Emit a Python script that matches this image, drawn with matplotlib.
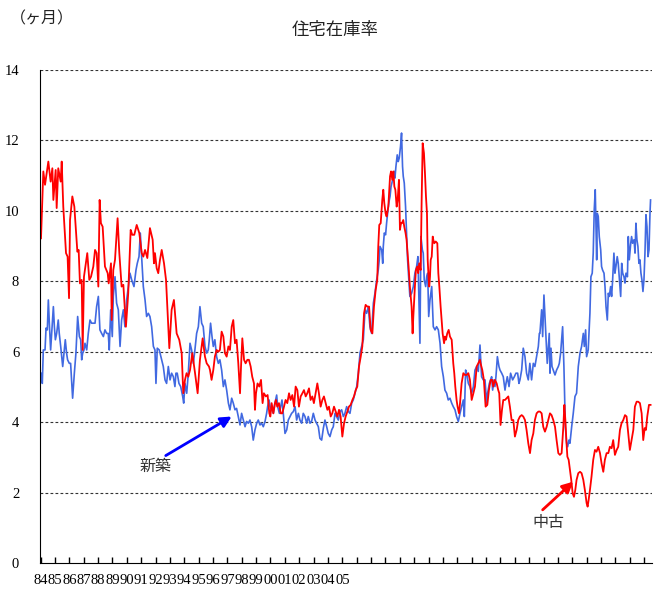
import matplotlib
matplotlib.use("Agg")
import matplotlib.pyplot as plt

# values: (year, months of supply)
new_home = [
    (1984.03, 5.39), (1984.12, 5.10), (1984.19, 6.05), (1984.31, 6.05), (1984.38, 6.67), (1984.47, 6.62),
    (1984.54, 7.47), (1984.61, 6.81), (1984.70, 6.05), (1984.77, 6.52), (1984.89, 7.28), (1984.96, 6.71),
    (1985.03, 6.34), (1985.12, 6.52), (1985.23, 6.90), (1985.30, 6.52), (1985.40, 6.15), (1985.54, 5.58),
    (1985.63, 5.96), (1985.72, 6.34), (1985.81, 5.96), (1985.88, 5.77), (1986.00, 5.67), (1986.09, 5.67),
    (1986.23, 4.68), (1986.35, 5.39), (1986.46, 5.96), (1986.58, 7.00), (1986.70, 6.43), (1986.79, 6.34),
    (1986.86, 5.77), (1986.93, 5.96), (1987.02, 6.05), (1987.09, 6.24), (1987.21, 6.05), (1987.32, 6.52),
    (1987.44, 6.90), (1987.55, 6.81), (1987.79, 6.81), (1987.90, 7.28), (1988.02, 7.57), (1988.13, 6.62),
    (1988.25, 6.52), (1988.37, 6.43), (1988.48, 6.62), (1988.60, 6.52), (1988.71, 6.52), (1988.78, 6.05),
    (1988.88, 7.19), (1988.99, 6.43), (1989.06, 7.57), (1989.18, 8.13), (1989.29, 7.38), (1989.41, 7.19),
    (1989.53, 6.15), (1989.64, 6.90), (1989.76, 7.19), (1989.87, 6.71), (1989.99, 7.47), (1990.11, 7.85),
    (1990.22, 8.23), (1990.34, 8.04), (1990.50, 7.85), (1990.64, 8.32), (1990.73, 8.51), (1990.85, 8.70),
    (1990.94, 9.37), (1991.03, 8.70), (1991.15, 7.85), (1991.27, 7.47), (1991.38, 7.00), (1991.50, 7.09),
    (1991.61, 7.00), (1991.73, 6.71), (1991.85, 6.15), (1991.96, 6.05), (1992.03, 5.10), (1992.12, 6.10),
    (1992.26, 6.05), (1992.43, 5.77), (1992.54, 5.58), (1992.66, 5.20), (1992.77, 5.10), (1992.89, 5.58),
    (1993.01, 5.20), (1993.12, 5.39), (1993.24, 5.29), (1993.35, 5.01), (1993.42, 5.39), (1993.51, 5.39),
    (1993.63, 5.10), (1993.75, 5.01), (1993.89, 4.73), (1993.96, 4.54), (1994.05, 5.10), (1994.17, 4.82),
    (1994.28, 5.39), (1994.40, 6.24), (1994.51, 6.05), (1994.63, 5.67), (1994.74, 6.05), (1994.86, 6.52),
    (1994.98, 6.71), (1995.09, 7.28), (1995.21, 6.81), (1995.32, 6.71), (1995.44, 6.15), (1995.56, 5.96),
    (1995.67, 6.05), (1995.74, 6.34), (1995.83, 6.81), (1995.93, 6.43), (1996.02, 6.15), (1996.13, 6.34),
    (1996.25, 5.86), (1996.37, 5.67), (1996.48, 5.77), (1996.60, 5.48), (1996.72, 5.01), (1996.83, 5.20),
    (1996.95, 4.91), (1997.07, 4.54), (1997.18, 4.35), (1997.30, 4.68), (1997.41, 4.54), (1997.53, 4.35),
    (1997.64, 4.39), (1997.76, 4.16), (1997.88, 3.92), (1997.99, 4.25), (1998.11, 4.06), (1998.23, 3.87),
    (1998.34, 4.02), (1998.46, 3.97), (1998.57, 4.06), (1998.69, 3.87), (1998.80, 3.49), (1998.92, 3.78),
    (1999.04, 3.97), (1999.15, 4.06), (1999.27, 3.92), (1999.38, 3.97), (1999.50, 3.87), (1999.62, 4.02),
    (1999.73, 4.25), (1999.80, 4.44), (1999.90, 4.63), (1999.97, 4.44), (2000.08, 4.35), (2000.20, 4.25),
    (2000.31, 4.54), (2000.43, 4.77), (2000.50, 4.44), (2000.62, 4.25), (2000.71, 4.44), (2000.80, 4.63),
    (2000.89, 4.25), (2001.01, 3.68), (2001.13, 3.78), (2001.24, 4.06), (2001.36, 4.16), (2001.47, 4.25),
    (2001.59, 4.30), (2001.71, 4.44), (2001.82, 4.06), (2001.94, 4.25), (2002.05, 4.06), (2002.17, 3.97),
    (2002.28, 4.25), (2002.40, 4.16), (2002.52, 3.97), (2002.63, 4.16), (2002.75, 3.97), (2002.86, 4.02),
    (2002.98, 4.25), (2003.10, 4.06), (2003.21, 3.97), (2003.33, 3.87), (2003.44, 3.54), (2003.56, 3.49),
    (2003.68, 3.83), (2003.79, 4.06), (2003.91, 3.87), (2004.02, 3.68), (2004.14, 3.59), (2004.26, 3.78),
    (2004.37, 3.87), (2004.49, 4.25), (2004.60, 4.16), (2004.72, 4.06), (2004.84, 4.30), (2004.95, 4.35),
    (2005.07, 4.16), (2005.18, 4.25), (2005.30, 4.44), (2005.42, 4.30), (2005.53, 4.25), (2005.65, 4.54),
    (2005.76, 4.63), (2005.88, 4.82), (2006.00, 5.01), (2006.11, 5.39), (2006.23, 5.96), (2006.34, 6.15),
    (2006.46, 6.34), (2006.58, 7.19), (2006.69, 7.09), (2006.81, 7.28), (2006.92, 6.71), (2007.04, 6.52),
    (2007.16, 7.38), (2007.27, 7.66), (2007.39, 8.04), (2007.50, 8.32), (2007.57, 8.61), (2007.62, 8.99),
    (2007.74, 8.89), (2007.81, 8.51), (2007.85, 8.99), (2007.92, 9.37), (2008.01, 9.32), (2008.08, 9.65),
    (2008.20, 10.12), (2008.27, 10.31), (2008.32, 10.41), (2008.39, 10.69), (2008.50, 10.88), (2008.62, 11.12),
    (2008.66, 10.93), (2008.73, 11.26), (2008.82, 11.59), (2008.89, 11.40), (2008.96, 11.50), (2009.05, 11.83),
    (2009.12, 12.21), (2009.19, 11.26), (2009.24, 10.98), (2009.31, 10.79), (2009.40, 10.12), (2009.47, 9.37),
    (2009.54, 8.61), (2009.64, 7.95), (2009.70, 7.57), (2009.82, 7.66), (2009.94, 7.85), (2010.05, 8.23),
    (2010.17, 8.42), (2010.26, 8.70), (2010.33, 7.47), (2010.40, 6.24), (2010.47, 9.27), (2010.57, 8.89),
    (2010.63, 8.80), (2010.70, 8.04), (2010.80, 7.85), (2010.87, 8.13), (2010.94, 8.23), (2011.01, 7.00),
    (2011.10, 7.47), (2011.22, 7.85), (2011.33, 6.71), (2011.45, 6.62), (2011.56, 6.71), (2011.68, 6.62),
    (2011.80, 6.24), (2011.91, 5.58), (2012.03, 5.29), (2012.14, 4.91), (2012.26, 4.82), (2012.37, 4.63),
    (2012.49, 4.68), (2012.61, 4.54), (2012.72, 4.44), (2012.84, 4.35), (2012.95, 4.16), (2013.07, 4.02),
    (2013.19, 4.25), (2013.30, 4.44), (2013.42, 4.63), (2013.49, 4.16), (2013.58, 5.48), (2013.65, 5.39),
    (2013.77, 5.10), (2013.88, 5.01), (2014.00, 4.82), (2014.12, 5.01), (2014.23, 5.48), (2014.35, 5.58),
    (2014.46, 5.44), (2014.58, 6.19), (2014.69, 5.29), (2014.81, 5.20), (2014.93, 5.20), (2015.04, 4.54),
    (2015.11, 4.82), (2015.23, 5.10), (2015.32, 5.20), (2015.39, 5.29), (2015.46, 4.91), (2015.55, 5.20),
    (2015.62, 5.01), (2015.69, 5.29), (2015.79, 5.86), (2015.90, 5.58), (2015.97, 5.48), (2016.09, 5.39),
    (2016.20, 5.29), (2016.32, 4.91), (2016.39, 5.10), (2016.48, 5.29), (2016.60, 5.01), (2016.71, 5.39),
    (2016.85, 5.20), (2016.97, 5.29), (2017.08, 5.39), (2017.20, 5.39), (2017.29, 5.10), (2017.36, 5.20),
    (2017.48, 5.48), (2017.59, 6.10), (2017.71, 5.86), (2017.82, 5.39), (2017.94, 5.20), (2018.05, 5.67),
    (2018.17, 5.20), (2018.29, 5.67), (2018.40, 5.58), (2018.52, 5.86), (2018.64, 6.15), (2018.71, 6.52),
    (2018.75, 6.52), (2018.87, 7.19), (2018.94, 6.43), (2019.03, 7.61), (2019.10, 7.00), (2019.17, 6.34),
    (2019.26, 5.67), (2019.40, 6.52), (2019.45, 5.39), (2019.52, 6.10), (2019.59, 5.58), (2019.68, 5.48),
    (2019.80, 5.34), (2019.91, 5.48), (2020.03, 5.58), (2020.10, 5.67), (2020.19, 5.96), (2020.33, 6.71),
    (2020.42, 5.58), (2020.52, 3.87), (2020.61, 3.40), (2020.68, 3.30), (2020.77, 3.49), (2020.84, 3.40),
    (2020.96, 3.87), (2021.07, 4.25), (2021.19, 4.73), (2021.30, 4.82), (2021.42, 5.58), (2021.54, 5.96),
    (2021.65, 6.15), (2021.77, 6.52), (2021.84, 6.15), (2021.93, 6.62), (2022.00, 5.86), (2022.11, 6.05),
    (2022.23, 7.09), (2022.30, 8.13), (2022.39, 8.23), (2022.46, 8.80), (2022.53, 10.03), (2022.60, 10.60),
    (2022.65, 9.55), (2022.70, 8.61), (2022.74, 9.93), (2022.81, 9.84), (2022.88, 9.27), (2022.98, 8.89),
    (2023.04, 8.42), (2023.11, 8.32), (2023.21, 8.23), (2023.28, 7.85), (2023.35, 7.28), (2023.44, 6.90),
    (2023.51, 7.66), (2023.58, 7.57), (2023.67, 7.85), (2023.74, 7.57), (2023.81, 8.04), (2023.90, 8.80),
    (2023.97, 8.23), (2024.04, 8.42), (2024.13, 8.70), (2024.20, 8.51), (2024.27, 8.13), (2024.37, 7.57),
    (2024.44, 8.51), (2024.51, 8.23), (2024.60, 8.13), (2024.67, 7.95), (2024.74, 8.23), (2024.84, 8.13),
    (2024.90, 9.27), (2024.97, 8.61), (2025.07, 9.08), (2025.13, 9.27), (2025.20, 9.08), (2025.30, 9.18),
    (2025.37, 8.80), (2025.43, 9.65), (2025.50, 9.18), (2025.57, 8.99), (2025.64, 8.51), (2025.71, 8.61),
    (2025.78, 8.23), (2025.85, 8.04), (2025.92, 7.71), (2025.99, 8.04), (2026.06, 8.80), (2026.13, 9.89),
    (2026.20, 9.55), (2026.27, 8.70), (2026.34, 8.89), (2026.41, 9.93), (2026.45, 10.31),
]

existing_home = [
    (1984.03, 9.22), (1984.19, 11.12), (1984.31, 10.74), (1984.54, 11.40), (1984.70, 10.83), (1984.82, 11.21),
    (1984.89, 10.31), (1985.05, 11.16), (1985.12, 10.08), (1985.23, 11.21), (1985.40, 10.83), (1985.47, 11.40),
    (1985.58, 10.12), (1985.77, 8.80), (1985.88, 8.70), (1985.98, 7.52), (1986.05, 9.74), (1986.21, 10.41),
    (1986.35, 10.12), (1986.56, 8.84), (1986.65, 8.89), (1986.74, 7.94), (1986.86, 8.04), (1986.93, 6.05),
    (1987.02, 8.13), (1987.25, 8.80), (1987.39, 8.04), (1987.51, 8.13), (1987.67, 8.42), (1987.79, 8.89),
    (1987.90, 8.80), (1988.02, 7.85), (1988.11, 10.31), (1988.20, 9.65), (1988.32, 9.55), (1988.48, 8.42),
    (1988.67, 8.23), (1988.74, 7.94), (1988.90, 8.51), (1988.95, 6.90), (1989.06, 8.32), (1989.18, 8.61),
    (1989.36, 9.79), (1989.48, 8.80), (1989.64, 7.85), (1989.76, 7.90), (1989.94, 6.71), (1990.10, 7.66),
    (1990.27, 9.46), (1990.38, 9.32), (1990.52, 9.32), (1990.69, 9.60), (1990.87, 9.37), (1991.04, 8.80),
    (1991.15, 8.70), (1991.27, 8.89), (1991.43, 8.66), (1991.61, 9.51), (1991.80, 9.18), (1991.89, 8.51),
    (1991.96, 8.80), (1992.08, 8.37), (1992.19, 8.23), (1992.31, 8.61), (1992.43, 8.89), (1992.59, 8.51),
    (1992.73, 8.04), (1992.96, 6.10), (1993.12, 7.19), (1993.28, 7.47), (1993.47, 6.52), (1993.65, 6.34),
    (1993.82, 5.96), (1993.93, 4.82), (1994.05, 5.20), (1994.16, 5.39), (1994.28, 5.29), (1994.40, 5.48),
    (1994.56, 5.96), (1994.75, 5.39), (1994.93, 4.82), (1995.09, 5.77), (1995.28, 6.38), (1995.44, 5.86),
    (1995.56, 5.67), (1995.72, 5.58), (1995.79, 5.48), (1995.90, 5.20), (1996.02, 5.48), (1996.13, 5.86),
    (1996.25, 6.05), (1996.37, 6.00), (1996.48, 6.05), (1996.60, 6.57), (1996.72, 6.43), (1996.83, 5.96),
    (1996.95, 5.86), (1997.07, 6.15), (1997.18, 6.05), (1997.30, 6.71), (1997.41, 6.90), (1997.53, 6.24),
    (1997.64, 6.34), (1997.76, 5.67), (1997.88, 4.82), (1997.95, 5.58), (1998.04, 6.38), (1998.16, 5.77),
    (1998.27, 5.67), (1998.39, 5.77), (1998.50, 5.77), (1998.62, 5.58), (1998.73, 5.29), (1998.85, 5.10),
    (1998.92, 4.35), (1998.99, 4.82), (1999.10, 5.10), (1999.22, 5.01), (1999.34, 5.20), (1999.45, 4.54),
    (1999.54, 4.82), (1999.68, 4.73), (1999.80, 4.77), (1999.92, 4.25), (1999.99, 4.16), (2000.08, 4.54),
    (2000.20, 4.25), (2000.31, 4.54), (2000.38, 4.63), (2000.47, 4.44), (2000.59, 4.54), (2000.71, 4.25),
    (2000.82, 4.25), (2000.94, 4.44), (2001.05, 4.63), (2001.17, 4.54), (2001.29, 4.82), (2001.40, 4.63),
    (2001.52, 4.77), (2001.64, 4.44), (2001.75, 5.01), (2001.87, 4.91), (2001.98, 4.44), (2002.10, 4.73),
    (2002.22, 4.82), (2002.33, 4.91), (2002.45, 4.73), (2002.56, 4.82), (2002.68, 4.96), (2002.79, 4.63),
    (2002.91, 4.73), (2003.02, 4.54), (2003.14, 4.82), (2003.26, 5.10), (2003.37, 4.82), (2003.49, 4.44),
    (2003.61, 4.63), (2003.72, 4.73), (2003.84, 4.54), (2003.96, 4.35), (2004.07, 4.44), (2004.19, 4.16),
    (2004.30, 4.25), (2004.42, 4.44), (2004.54, 4.30), (2004.65, 4.16), (2004.77, 4.35), (2004.88, 4.16),
    (2005.00, 3.59), (2005.12, 3.97), (2005.23, 4.16), (2005.35, 4.30), (2005.46, 4.44), (2005.58, 4.49),
    (2005.70, 4.63), (2005.81, 4.73), (2005.93, 4.91), (2006.04, 5.01), (2006.16, 5.58), (2006.28, 5.86),
    (2006.39, 6.15), (2006.51, 7.09), (2006.62, 7.33), (2006.74, 7.28), (2006.86, 7.28), (2006.97, 6.62),
    (2007.09, 6.52), (2007.20, 7.28), (2007.32, 7.76), (2007.43, 8.04), (2007.50, 8.99), (2007.57, 9.60),
    (2007.67, 9.65), (2007.78, 10.31), (2007.85, 10.60), (2007.92, 10.22), (2008.01, 9.93), (2008.08, 9.84),
    (2008.20, 10.12), (2008.32, 10.98), (2008.39, 11.12), (2008.48, 10.88), (2008.55, 11.12), (2008.62, 10.69),
    (2008.69, 10.60), (2008.78, 10.12), (2008.85, 10.31), (2008.94, 10.88), (2009.01, 9.46), (2009.08, 9.65),
    (2009.15, 9.65), (2009.24, 9.74), (2009.31, 9.55), (2009.40, 9.37), (2009.47, 9.18), (2009.54, 8.80),
    (2009.61, 8.42), (2009.70, 7.85), (2009.82, 7.28), (2009.89, 6.52), (2009.94, 7.00), (2010.05, 7.85),
    (2010.12, 8.32), (2010.21, 8.42), (2010.28, 8.23), (2010.35, 8.51), (2010.45, 8.32), (2010.52, 10.31),
    (2010.59, 11.92), (2010.68, 11.64), (2010.75, 11.07), (2010.82, 10.41), (2010.89, 9.93), (2010.94, 8.61),
    (2011.01, 8.04), (2011.05, 7.85), (2011.10, 8.13), (2011.15, 8.61), (2011.22, 8.70), (2011.29, 9.27),
    (2011.33, 9.18), (2011.40, 9.08), (2011.50, 9.13), (2011.61, 9.08), (2011.68, 8.23), (2011.75, 7.85),
    (2011.84, 7.28), (2011.91, 6.90), (2011.98, 6.52), (2012.08, 6.24), (2012.14, 6.43), (2012.21, 6.34),
    (2012.30, 6.52), (2012.40, 6.62), (2012.49, 6.43), (2012.61, 6.34), (2012.72, 5.67), (2012.79, 5.39),
    (2012.86, 5.01), (2012.95, 4.63), (2013.02, 4.44), (2013.12, 4.25), (2013.19, 4.54), (2013.30, 5.10),
    (2013.42, 5.39), (2013.53, 5.34), (2013.65, 5.34), (2013.77, 5.39), (2013.88, 5.20), (2014.00, 4.63),
    (2014.12, 4.82), (2014.23, 5.01), (2014.35, 5.58), (2014.46, 5.67), (2014.58, 5.77), (2014.62, 5.67),
    (2014.74, 5.48), (2014.85, 5.20), (2014.97, 4.44), (2015.09, 4.49), (2015.20, 4.91), (2015.32, 5.20),
    (2015.43, 5.20), (2015.50, 5.01), (2015.62, 5.20), (2015.74, 5.10), (2015.85, 4.91), (2015.92, 4.82),
    (2016.01, 3.92), (2016.11, 4.35), (2016.20, 4.63), (2016.32, 4.63), (2016.43, 4.68), (2016.55, 4.73),
    (2016.66, 4.44), (2016.78, 4.06), (2016.90, 4.06), (2017.01, 3.59), (2017.13, 3.78), (2017.24, 4.06),
    (2017.36, 4.16), (2017.48, 4.20), (2017.59, 4.16), (2017.71, 4.06), (2017.82, 3.78), (2017.94, 3.40),
    (2018.06, 3.12), (2018.17, 3.49), (2018.29, 3.68), (2018.40, 4.06), (2018.52, 4.25), (2018.64, 4.30),
    (2018.75, 4.30), (2018.87, 4.25), (2018.98, 3.87), (2019.10, 3.73), (2019.22, 3.87), (2019.33, 4.06),
    (2019.45, 4.25), (2019.56, 4.20), (2019.68, 4.06), (2019.80, 3.87), (2019.91, 3.49), (2020.03, 3.12),
    (2020.14, 3.07), (2020.26, 3.12), (2020.38, 3.87), (2020.45, 4.49), (2020.52, 4.06), (2020.59, 3.49),
    (2020.66, 3.02), (2020.75, 2.93), (2020.84, 2.64), (2020.93, 2.36), (2021.03, 1.98), (2021.12, 1.88),
    (2021.21, 2.07), (2021.30, 2.36), (2021.42, 2.55), (2021.54, 2.59), (2021.65, 2.55), (2021.77, 2.36),
    (2021.88, 2.07), (2022.00, 1.70), (2022.07, 1.60), (2022.14, 1.79), (2022.23, 2.07), (2022.34, 2.45),
    (2022.46, 2.93), (2022.58, 3.21), (2022.69, 3.16), (2022.81, 3.30), (2022.93, 3.12), (2023.04, 2.83),
    (2023.16, 2.59), (2023.27, 2.93), (2023.39, 3.12), (2023.51, 3.12), (2023.62, 3.30), (2023.74, 3.26),
    (2023.85, 3.49), (2023.97, 3.07), (2024.09, 3.21), (2024.20, 3.30), (2024.32, 3.78), (2024.43, 3.97),
    (2024.55, 4.06), (2024.67, 4.20), (2024.78, 4.16), (2024.90, 3.68), (2025.01, 3.21), (2025.13, 3.49),
    (2025.25, 3.78), (2025.36, 4.44), (2025.48, 4.58), (2025.59, 4.58), (2025.71, 4.54), (2025.83, 4.25),
    (2025.94, 3.49), (2026.04, 3.83), (2026.13, 3.78), (2026.22, 4.16), (2026.34, 4.49), (2026.45, 4.49),
]

year_labels = ["84", "85", "86", "87", "88", "89", "90", "91", "92", "93", "94",
               "95", "96", "97", "98", "99", "00", "01", "02", "03", "04", "05"]
first_year = 1984
last_tick_year = 2026

jp = ["Noto Sans CJK JP", "DejaVu Sans"]
serif = ["Liberation Serif", "Noto Sans CJK JP"]

fig = plt.figure(figsize=(6.58, 5.90), dpi=100)
ax = fig.add_axes([40 / 658, 27 / 590, 612 / 658, 493 / 590])

nx, ny = zip(*new_home)
ex, ey = zip(*existing_home)
ax.plot(nx, ny, color="#4169E1", lw=1.2)
ax.plot(ex, ey, color="#FF0000", lw=1.3)

ax.set_xlim(1983.96, 2026.55)
ax.set_ylim(0, 14)

# yearly ticks, but only the first 22 years carry a label (as in the original)
years = list(range(first_year, last_tick_year + 1))
ax.set_xticks(years)
ax.set_xticklabels(year_labels + [""] * (len(years) - len(year_labels)),
                   family=serif, fontsize=10.5)
ax.tick_params(axis="x", direction="in", length=4, width=1, pad=8)
ax.set_yticks(range(0, 15, 2))
ax.set_yticklabels([str(v) for v in range(0, 15, 2)], family=serif, fontsize=10.5)
ax.tick_params(axis="y", length=0, pad=15)

for v in range(2, 15, 2):
    ax.axhline(v, color="#333333", lw=0.8, ls=(0, (2.5, 2)), zorder=0)

ax.spines["top"].set_visible(False)
ax.spines["right"].set_visible(False)
ax.spines["left"].set_color("black")
ax.spines["bottom"].set_color("black")

# annotations
ax.annotate("", xy=(1997.30, 4.16), xytext=(1992.71, 3.05),
            arrowprops=dict(arrowstyle="-|>", color="#0000FF", lw=2, mutation_scale=16,
                            shrinkA=0, shrinkB=0))
ax.text(1992.03, 2.74, "新築", family=jp, fontsize=11.5, color="#333333",
        ha="center", va="center")
ax.annotate("", xy=(2021.07, 2.31), xytext=(2018.94, 1.51),
            arrowprops=dict(arrowstyle="-|>", color="#FF0000", lw=2, mutation_scale=16,
                            shrinkA=0, shrinkB=0))
ax.text(2019.31, 1.14, "中古", family=jp, fontsize=11.5, color="#333333",
        ha="center", va="center")

fig.text(335 / 658, 1 - 30 / 590, "住宅在庫率", family=jp, fontsize=12.5,
         ha="center", va="center", color="#222222")
fig.text(10 / 658, 1 - 19 / 590, "（ヶ月）", family=jp, fontsize=11.5,
         ha="left", va="center", color="#222222")

fig.savefig("out.png", dpi=100)
